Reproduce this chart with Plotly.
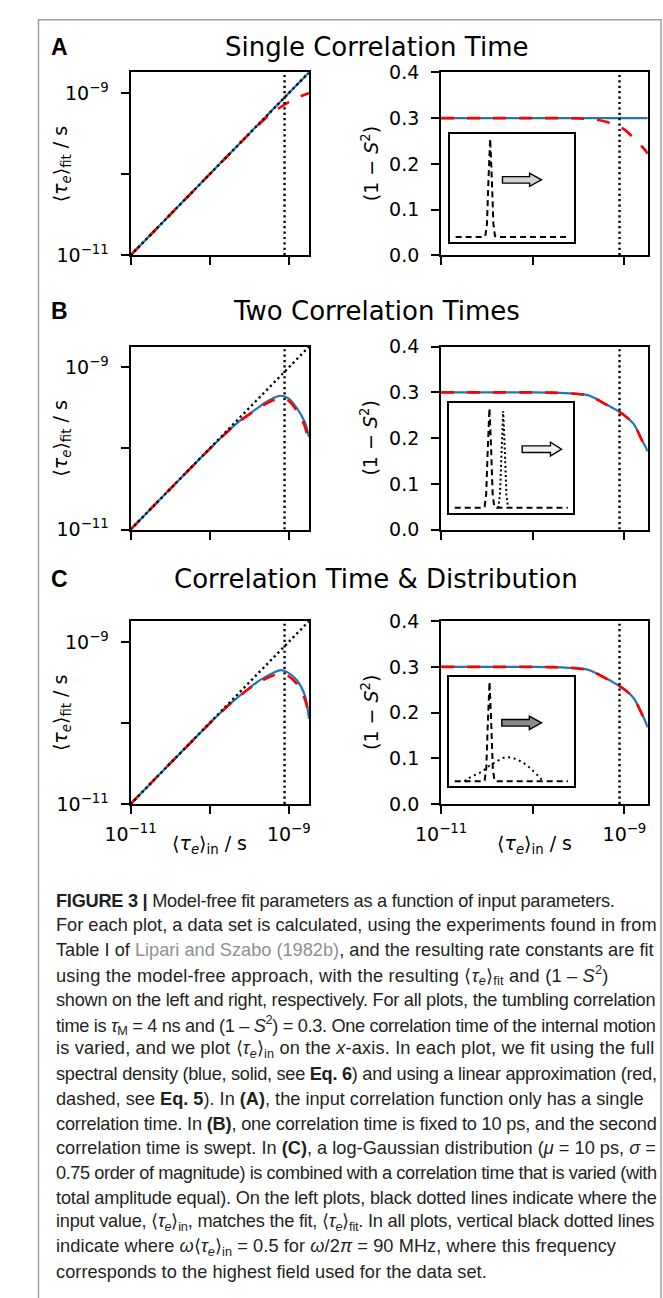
import re
import plotly.graph_objects as go

W, H = 663, 1298

# ---------------- data ----------------
# input correlation time (log10 s) on the x-axis of every main panel
log_tau_in = [-11.0, -10.5, -10.0, -9.8, -9.6, -9.5, -9.4, -9.3, -9.2, -9.1, -9.0, -8.9, -8.8, -8.77, -8.745]
tau_min, tau_max = 1e-11, 1.8e-9
tau_omega_half = 8.84e-10          # omega*tau = 0.5 at 90 MHz

# fitted <tau_e> (log10 s): full spectral density (blue) and linear approx (red)
log_fit_A_full = [-11.0, -10.5, -10.0, -9.8, -9.6, -9.5, -9.4, -9.3, -9.2, -9.1, -9.0, -8.9, -8.8, -8.77, -8.745]
log_fit_A_lin = [-11.0, -10.5, -10.0, -9.8, -9.6, -9.5, -9.405, -9.315, -9.235, -9.17, -9.11, -9.06, -9.02, -9.008, -9.0]
log_fit_B_full = [-11.0, -10.5, -10.005, -9.815, -9.645, -9.575, -9.505, -9.435, -9.38, -9.35, -9.385, -9.50, -9.67, -9.76, -9.86]
log_fit_B_lin = [-11.0, -10.5, -10.005, -9.815, -9.65, -9.58, -9.515, -9.455, -9.405, -9.385, -9.415, -9.535, -9.72, -9.83, -9.97]
log_fit_C_full = [-11.0, -10.5, -10.005, -9.815, -9.648, -9.57, -9.495, -9.435, -9.385, -9.348, -9.385, -9.47, -9.65, -9.78, -9.95]
log_fit_C_lin = [-11.0, -10.5, -10.005, -9.815, -9.65, -9.575, -9.51, -9.46, -9.415, -9.395, -9.425, -9.515, -9.70, -9.80, -9.92]

# fitted (1 - S^2)
s2_A_full = [0.3] * 15
s2_A_lin = [0.3, 0.3, 0.3, 0.3, 0.3, 0.2995, 0.2985, 0.2965, 0.292, 0.285, 0.275, 0.257, 0.236, 0.229, 0.222]
s2_B_full = [0.3, 0.3, 0.3, 0.2995, 0.298, 0.2965, 0.294, 0.285, 0.274, 0.263, 0.25, 0.231, 0.192, 0.181, 0.171]
s2_B_lin = [0.3, 0.3, 0.3, 0.2995, 0.298, 0.2965, 0.2935, 0.2845, 0.2735, 0.2625, 0.2495, 0.2305, 0.1915, 0.1805, 0.1705]
s2_C_full = [0.3, 0.3, 0.3, 0.2995, 0.298, 0.2965, 0.294, 0.2855, 0.275, 0.2635, 0.251, 0.232, 0.193, 0.18, 0.168]
s2_C_lin = [0.3, 0.3, 0.3, 0.2995, 0.298, 0.2965, 0.2935, 0.285, 0.2745, 0.263, 0.2505, 0.2315, 0.1925, 0.1795, 0.1675]

# inset: correlation-time distributions (x: log10 tau, y: relative amplitude)
inset_swept_x = [-14.0, -12.3, -12.15, -12.05, -11.95, -11.85, -11.75, -11.65, -11.55, -11.4, -7.0]
inset_swept_y = [0.0, 0.0, 0.011, 0.135, 0.607, 1.0, 0.607, 0.135, 0.011, 0.0, 0.0]
inset_fixed_x = [-11.35, -11.3, -11.2, -11.1, -11.0, -10.9, -10.8, -10.7, -10.65]
inset_fixed_y = [0.0, 0.011, 0.13, 0.59, 0.97, 0.59, 0.13, 0.011, 0.0]
inset_dist_x = [-13.4, -13.11, -12.71, -12.31, -11.92, -11.42, -10.91, -10.42, -9.92, -9.52, -9.12, -8.82, -8.62, -8.45]
inset_dist_y = [0.0, 0.033, 0.067, 0.10, 0.15, 0.20, 0.24, 0.233, 0.20, 0.157, 0.10, 0.05, 0.017, 0.0]

tick_tau = [1e-11, 1e-9]
tick_tau_text = ["10<sup>\u221211</sup>", "10<sup>\u22129</sup>"]
minor_tick_tau = [1e-10]
tick_s2 = [0.0, 0.1, 0.2, 0.3, 0.4]
tick_s2_text = ["0.0", "0.1", "0.2", "0.3", "0.4"]

panel_titles = ["Single Correlation Time", "Two Correlation Times", "Correlation Time &amp; Distribution"]
panel_letters = ["A", "B", "C"]

caption_lines = [
    "<b>FIGURE 3 |</b> Model-free fit parameters as a function of input parameters.",
    "For each plot, a data set is calculated, using the experiments found in from",
    "Table I of <span style='color:#8f8f8f'>Lipari and Szabo (1982b)</span>, and the resulting rate constants are fit",
    "using the model-free approach, with the resulting \u27e8<i>\u03c4<sub>e</sub></i>\u27e9<sub>fit</sub> and (1 \u2013 <i>S</i><sup>2</sup>)",
    "shown on the left and right, respectively. For all plots, the tumbling correlation",
    "time is <i>\u03c4</i><sub>M</sub> = 4 ns and (1 \u2013 <i>S</i><sup>2</sup>) = 0.3. One correlation time of the internal motion",
    "is varied, and we plot \u27e8<i>\u03c4<sub>e</sub></i>\u27e9<sub>in</sub> on the <i>x</i>-axis. In each plot, we fit using the full",
    "spectral density (blue, solid, see <b>Eq. 6</b>) and using a linear approximation (red,",
    "dashed, see <b>Eq. 5</b>). In <b>(A)</b>, the input correlation function only has a single",
    "correlation time. In <b>(B)</b>, one correlation time is fixed to 10 ps, and the second",
    "correlation time is swept. In <b>(C)</b>, a log-Gaussian distribution (<i>\u03bc</i> = 10 ps, <i>\u03c3</i> =",
    "0.75 order of magnitude) is combined with a correlation time that is varied (with",
    "total amplitude equal). On the left plots, black dotted lines indicate where the",
    "input value, \u27e8<i>\u03c4<sub>e</sub></i>\u27e9<sub>in</sub>, matches the fit, \u27e8<i>\u03c4<sub>e</sub></i>\u27e9<sub>fit</sub>. In all plots, vertical black dotted lines",
    "indicate where <i>\u03c9</i>\u27e8<i>\u03c4<sub>e</sub></i>\u27e9<sub>in</sub> = 0.5 for <i>\u03c9</i>/2<i>\u03c0</i> = 90 MHz, where this frequency",
    "corresponds to the highest field used for the data set.",
]
# right end (px) of each caption line in the reference
caption_line_end = [588, 630, 629, 583, 630, 630, 629, 630, 617, 630, 630, 630, 630, 630, 590, 460]

# ---------------- layout geometry (pixels) ----------------
row_px = [(62.5, 248.5), (341.5, 527.5), (620.7, 806.7)]
left_px = (109, 295)
right_px = (432.7, 648.2)
inset_px = [(442, 571, 125, 235), (441, 570.7, 399, 510.5), (441, 571, 677.3, 788.7)]
title_y_px = [37, 305, 578]
arrow_geom = [  # tail, head base, tip, y centre, half shaft, half head (fractions of inset)
    (0.424, 0.643, 0.739, 0.575, 0.03, 0.061),
    (0.588, 0.815, 0.904, 0.581, 0.03, 0.063),
    (0.423, 0.644, 0.742, 0.58, 0.03, 0.061),
]
arrow_fill = ["#d4d4d4", "#f2f2f2", "#8a8a8a"]
CAPTION_X0 = 29
CAPTION_SIZE = 18.2

# --------- approximate Liberation Sans (Arial) advance widths, per 1000 em ---------
_REG = dict(zip("abcdefghijklmnopqrstuvwxyz",
                [556, 556, 500, 556, 556, 278, 556, 556, 222, 222, 500, 222, 833, 556, 556, 556, 556, 333, 500, 278,
                 556, 500, 722, 500, 500, 500]))
_REG.update(zip("ABCDEFGHIJKLMNOPQRSTUVWXYZ",
                [667, 667, 722, 722, 667, 611, 778, 722, 278, 500, 667, 556, 833, 722, 778, 667, 778, 722, 667, 611,
                 722, 667, 944, 667, 667, 611]))
_REG.update({c: 556 for c in "0123456789"})
_REG.update({" ": 278, ",": 278, ".": 278, "(": 333, ")": 333, "-": 333, "\u2013": 556, "=": 584, "/": 278,
             "|": 260, "&": 667, "\u03c4": 434, "\u03bc": 577, "\u03c3": 618, "\u03c9": 780, "\u03c0": 640,
             "\u27e8": 390, "\u27e9": 390})
_BOLD = dict(_REG)
_BOLD.update(zip("abcdefghijklmnopqrstuvwxyz",
                 [556, 611, 556, 611, 556, 333, 611, 611, 278, 278, 556, 278, 889, 611, 611, 611, 611, 389, 556, 333,
                  611, 556, 778, 556, 556, 500]))
_BOLD.update({"A": 722, "B": 722, "J": 556, "K": 722, "L": 611, "|": 280})


def text_metrics(markup, size):
    """Estimated natural width (px) and number of glyphs of a plotly pseudo-html line."""
    width, count, bold, small = 0.0, 0, 0, 0
    for tok in re.split(r"(<[^>]+>)", markup):
        if tok.startswith("<"):
            t = tok.lower()
            if t == "<b>":
                bold += 1
            elif t == "</b>":
                bold -= 1
            elif t in ("<sub>", "<sup>"):
                small += 1
            elif t in ("</sub>", "</sup>"):
                small -= 1
            continue
        tbl = _BOLD if bold else _REG
        scale = 0.7 if small else 1.0
        for ch in tok:
            width += tbl.get(ch, 556) / 1000 * size * scale
            count += 1
    return width, count


def fx(p):
    return p / W


def fy(p):
    return 1 - p / H


BLUE = "#1f77b4"
RED = "#ff0000"
PLOT_FONT = "DejaVu Sans"
DOT = "2.2px,3.2px"

fig = go.Figure()
layout = dict(
    width=W, height=H, autosize=False,
    margin=dict(l=0, r=0, t=0, b=0, pad=0),
    paper_bgcolor="white", plot_bgcolor="white",
    showlegend=False,
)

tau_in = [10 ** v for v in log_tau_in]
fits_log = [(log_fit_A_full, log_fit_A_lin), (log_fit_B_full, log_fit_B_lin), (log_fit_C_full, log_fit_C_lin)]
fits_s2 = [(s2_A_full, s2_A_lin), (s2_B_full, s2_B_lin), (s2_C_full, s2_C_lin)]

axis_common = dict(
    showline=True, linecolor="black", linewidth=2, mirror=True,
    ticks="outside", ticklen=8, tickwidth=2, tickcolor="black",
    showgrid=False, zeroline=False,
    tickfont=dict(family=PLOT_FONT, size=19, color="black"),
)
minor_common = dict(tickvals=minor_tick_tau, ticks="outside", ticklen=8, tickwidth=2, tickcolor="black",
                    showgrid=False)

annotations = []
shapes = []

for r in range(3):
    top, bot = row_px[r]
    ydom = [fy(bot), fy(top)]
    il = 2 * r + 1      # left subplot index
    ir = 2 * r + 2      # right subplot index
    last = r == 2

    # ---- left: <tau>_fit vs <tau>_in ----
    xa = dict(axis_common, type="log", range=[-11, -8.745], domain=[fx(left_px[0]), fx(left_px[1])],
              anchor=f"y{il}", tickmode="array", tickvals=tick_tau, ticktext=tick_tau_text,
              showticklabels=last, ticklabelstandoff=4, minor=minor_common)
    ya = dict(axis_common, type="log", range=[-11, -8.745], domain=ydom, anchor=f"x{il}",
              tickmode="array", tickvals=tick_tau, ticktext=tick_tau_text, ticklabelstandoff=8,
              minor=minor_common)
    layout["xaxis" if il == 1 else f"xaxis{il}"] = xa
    layout["yaxis" if il == 1 else f"yaxis{il}"] = ya
    xr = "x" if il == 1 else f"x{il}"
    yr = "y" if il == 1 else f"y{il}"
    full, lin = fits_log[r]
    fig.add_trace(go.Scatter(x=tau_in, y=[10 ** v for v in full], mode="lines", xaxis=xr, yaxis=yr,
                             line=dict(color=BLUE, width=2.2, shape="spline")))
    fig.add_trace(go.Scatter(x=tau_in, y=[10 ** v for v in lin], mode="lines", xaxis=xr, yaxis=yr,
                             line=dict(color=RED, width=2.6, dash="13px,13px", shape="spline")))
    fig.add_trace(go.Scatter(x=[tau_min, tau_max], y=[tau_min, tau_max], mode="lines", xaxis=xr, yaxis=yr,
                             line=dict(color="black", width=2.4, dash=DOT)))
    fig.add_trace(go.Scatter(x=[tau_omega_half, tau_omega_half], y=[tau_min, tau_max], mode="lines",
                             xaxis=xr, yaxis=yr, line=dict(color="black", width=2.4, dash=DOT)))

    # ---- right: (1 - S^2) vs <tau>_in ----
    xa = dict(axis_common, type="log", range=[-11, -8.745], domain=[fx(right_px[0]), fx(right_px[1])],
              anchor=f"y{ir}", tickmode="array", tickvals=tick_tau, ticktext=tick_tau_text,
              showticklabels=last, ticklabelstandoff=4, minor=minor_common)
    ya = dict(axis_common, range=[0, 0.4], domain=ydom, anchor=f"x{ir}",
              tickmode="array", tickvals=tick_s2, ticktext=tick_s2_text, ticklabelstandoff=8)
    layout[f"xaxis{ir}"] = xa
    layout[f"yaxis{ir}"] = ya
    full, lin = fits_s2[r]
    fig.add_trace(go.Scatter(x=tau_in, y=full, mode="lines", xaxis=f"x{ir}", yaxis=f"y{ir}",
                             line=dict(color=BLUE, width=2.2, shape="spline")))
    fig.add_trace(go.Scatter(x=tau_in, y=lin, mode="lines", xaxis=f"x{ir}", yaxis=f"y{ir}",
                             line=dict(color=RED, width=2.6, dash="13px,13px", shape="spline")))
    fig.add_trace(go.Scatter(x=[tau_omega_half, tau_omega_half], y=[0, 0.4], mode="lines",
                             xaxis=f"x{ir}", yaxis=f"y{ir}",
                             line=dict(color="black", width=2.4, dash=DOT)))

    # ---- inset ----
    ii = 7 + r
    x0, x1, t0, b0 = inset_px[r]
    layout[f"xaxis{ii}"] = dict(domain=[fx(x0), fx(x1)], anchor=f"y{ii}", range=[-14.35, -6.65],
                                showline=True, mirror=True, linecolor="black", linewidth=1.8,
                                showticklabels=False, ticks="", showgrid=False, zeroline=False)
    layout[f"yaxis{ii}"] = dict(domain=[fy(b0), fy(t0)], anchor=f"x{ii}", range=[-0.05, 1.05],
                                showline=True, mirror=True, linecolor="black", linewidth=1.8,
                                showticklabels=False, ticks="", showgrid=False, zeroline=False)
    fig.add_trace(go.Scatter(x=inset_swept_x, y=inset_swept_y, mode="lines", xaxis=f"x{ii}", yaxis=f"y{ii}",
                             line=dict(color="black", width=2.0, dash="6px,4px")))
    if r == 1:
        fig.add_trace(go.Scatter(x=inset_fixed_x, y=inset_fixed_y, mode="lines", xaxis=f"x{ii}", yaxis=f"y{ii}",
                                 line=dict(color="black", width=2.0, dash="2px,2.6px")))
    if r == 2:
        fig.add_trace(go.Scatter(x=inset_dist_x, y=inset_dist_y, mode="lines", xaxis=f"x{ii}", yaxis=f"y{ii}",
                                 line=dict(color="black", width=2.0, dash="2px,3.6px", shape="spline")))
    ta, hb, tp, yc, hs, hh = arrow_geom[r]
    path = (f"M{ta},{yc - hs} L{hb},{yc - hs} L{hb},{yc - hh} L{tp},{yc} "
            f"L{hb},{yc + hh} L{hb},{yc + hs} L{ta},{yc + hs} Z")
    shapes.append(dict(type="path", path=path, xref=f"x{ii} domain", yref=f"y{ii} domain",
                       line=dict(color="black", width=1.4), fillcolor=arrow_fill[r]))

    # ---- texts ----
    annotations.append(dict(text=f"<b>{panel_letters[r]}</b>", x=fx(35), y=fy(title_y_px[r]),
                            xref="paper", yref="paper", showarrow=False, xanchor="center", yanchor="middle",
                            font=dict(family="Liberation Sans", size=23, color="black")))
    annotations.append(dict(text=panel_titles[r], x=fx(365), y=fy(title_y_px[r]),
                            xref="paper", yref="paper", showarrow=False, xanchor="center", yanchor="middle",
                            font=dict(family=PLOT_FONT, size=26, color="black")))
    yc_px = (top + bot) / 2
    annotations.append(dict(text="\u27e8<i>\u03c4</i><sub><i>e</i></sub>\u27e9<sub>fit</sub> / s",
                            x=fx(37), y=fy(yc_px), xref="paper", yref="paper", showarrow=False,
                            textangle=-90, xanchor="center", yanchor="middle",
                            font=dict(family=PLOT_FONT, size=19, color="black")))
    annotations.append(dict(text="(1 \u2212 <i>S</i><sup>2</sup>)",
                            x=fx(358), y=fy(yc_px), xref="paper", yref="paper", showarrow=False,
                            textangle=-90, xanchor="center", yanchor="middle",
                            font=dict(family=PLOT_FONT, size=19, color="black")))

for xc in (191, 530):
    annotations.append(dict(text="\u27e8<i>\u03c4</i><sub><i>e</i></sub>\u27e9<sub>in</sub> / s",
                            x=fx(xc), y=fy(848), xref="paper", yref="paper", showarrow=False,
                            xanchor="center", yanchor="middle",
                            font=dict(family=PLOT_FONT, size=19, color="black")))

for i, line in enumerate(caption_lines):
    natural, n = text_metrics(line, CAPTION_SIZE)
    spacing = (caption_line_end[i] - CAPTION_X0 - natural) / max(n, 1)
    spacing = max(min(spacing, 1.0), -1.6)
    styled = f"<span style='letter-spacing:{spacing:.3f}px'>{line}</span>"
    annotations.append(dict(text=styled, x=fx(CAPTION_X0), y=fy(905 + 25.2 * i), xref="paper", yref="paper",
                            showarrow=False, xanchor="left", yanchor="middle", align="left",
                            font=dict(family="Liberation Sans", size=CAPTION_SIZE, color="#231f20")))

# outer frame
shapes.append(dict(type="rect", xref="paper", yref="paper", x0=fx(13), x1=fx(662), y0=fy(1310), y1=fy(9),
                   line=dict(color="#a0a0a0", width=1.5), fillcolor="rgba(0,0,0,0)", layer="below"))

layout["annotations"] = annotations
layout["shapes"] = shapes
fig.update_layout(**layout)
fig.write_html(
    "out.html",
    post_script="document.body.style.margin='0px';document.body.style.padding='0px';"
                "document.body.style.overflow='hidden';",
)
